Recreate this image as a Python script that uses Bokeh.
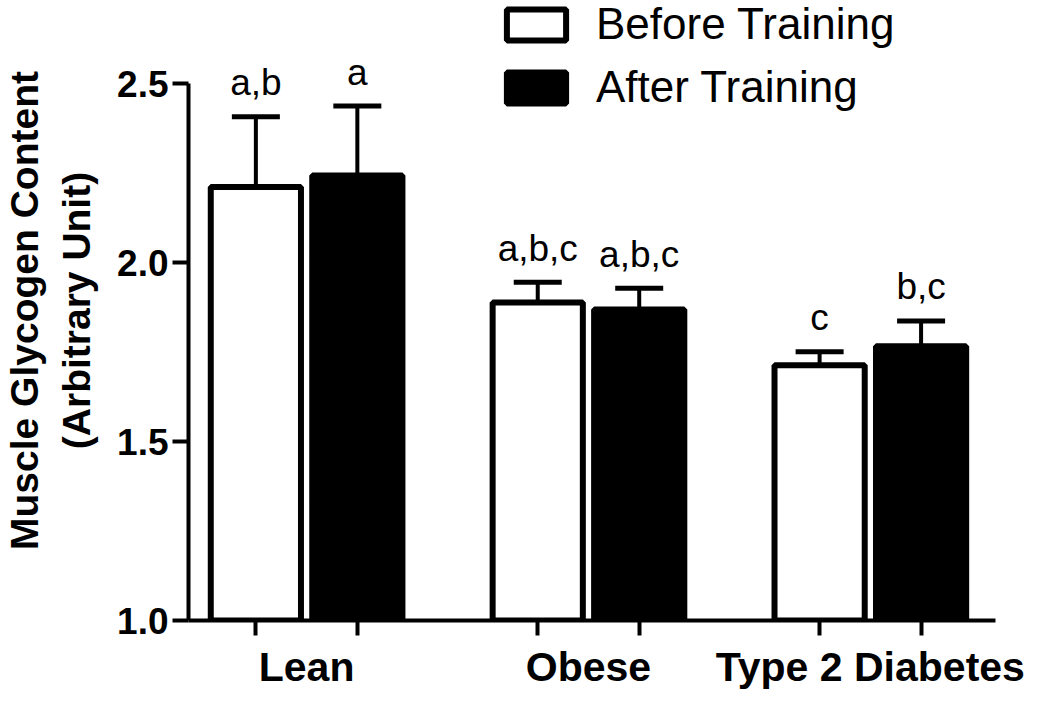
from bokeh.plotting import figure
from bokeh.models import (ColumnDataSource, Range1d, FixedTicker, NumeralTickFormatter,
                          Whisker, TeeHead, Legend, LegendItem)
from bokeh.core.properties import value
from bokeh.embed import file_html
from bokeh.resources import INLINE

# ---- data ----
groups = ["Lean", "Obese", "Type 2 Diabetes"]
before = [2.211, 1.888, 1.713]
before_err = [0.196, 0.057, 0.038]
after = [2.243, 1.869, 1.766]
after_err = [0.194, 0.059, 0.071]
before_labels = ["a,b", "a,b,c", "c"]
after_labels = ["a", "a,b,c", "b,c"]
y_ticks = [1.0, 1.5, 2.0, 2.5]

FONT = "Liberation Sans"
gpos = list(range(len(groups)))
off = 0.18
bw = 0.32
xb = [g - off for g in gpos]
xa = [g + off for g in gpos]

src_b = ColumnDataSource(dict(x=xb, top=before, cap=[v + e for v, e in zip(before, before_err)],
                              lab=before_labels))
src_a = ColumnDataSource(dict(x=xa, top=after, cap=[v + e for v, e in zip(after, after_err)],
                              lab=after_labels))
src_b.data["ly"] = [c + 0.095 for c in src_b.data["cap"]]
src_a.data["ly"] = [c + 0.095 for c in src_a.data["cap"]]

p = figure(width=1034, height=696, output_backend="svg", toolbar_location=None,
           x_range=Range1d(-0.419, 2.444), y_range=Range1d(1.0, 2.732),
           min_border_left=182, min_border_right=39, min_border_top=0, min_border_bottom=76)
p.grid.visible = False
p.outline_line_color = None
p.background_fill_color = "white"
p.border_fill_color = "white"

rb = p.vbar(x="x", top="top", bottom=1.0, width=bw, source=src_b,
            fill_color="white", line_color="black", line_width=6)
ra = p.vbar(x="x", top="top", bottom=1.0, width=bw, source=src_a,
            fill_color="black", line_color="black", line_width=6)

for s in (src_b, src_a):
    w = Whisker(base="x", lower="top", upper="cap", source=s, dimension="height",
                line_color="black", line_width=4,
                upper_head=TeeHead(size=48, line_width=5, line_color="black"),
                lower_head=None, level="overlay")
    p.add_layout(w)
    p.text(x="x", y="ly", text="lab", source=s, text_align="center",
           text_baseline="alphabetic", text_font=value(FONT), text_font_size="37px",
           text_color="black")

# y axis
ya = p.yaxis[0]
ya.ticker = FixedTicker(ticks=y_ticks)
ya.formatter = NumeralTickFormatter(format="0.0")
ya.bounds = (1.0, 2.5)
ya.axis_line_width = 4
ya.major_tick_line_width = 4
ya.major_tick_out = 16
ya.major_tick_in = 0
ya.minor_tick_line_color = None
ya.major_label_text_font = FONT
ya.major_label_text_font_style = "bold"
ya.major_label_text_font_size = "37px"
ya.major_label_text_color = "black"
ya.major_label_standoff = 4
ya.axis_label = "Muscle Glycogen Content\n(Arbitrary Unit)"
ya.axis_label_text_font = FONT
ya.axis_label_text_font_style = "bold"
ya.axis_label_text_font_size = "39px"
ya.axis_label_text_color = "black"
ya.axis_label_standoff = 16

# x axis
xa_ = p.xaxis[0]
xa_.ticker = FixedTicker(ticks=gpos, minor_ticks=xb + xa)
xa_.major_label_overrides = {g: n for g, n in zip(gpos, groups)}
xa_.axis_line_width = 4
xa_.major_tick_out = 0
xa_.major_tick_in = 0
xa_.minor_tick_out = 15
xa_.minor_tick_in = 0
xa_.minor_tick_line_width = 4
xa_.minor_tick_line_color = "black"
xa_.major_label_text_font = FONT
xa_.major_label_text_font_style = "bold"
xa_.major_label_text_font_size = "41px"
xa_.major_label_text_color = "black"
xa_.major_label_standoff = 8

legend = Legend(items=[LegendItem(label="Before Training", renderers=[rb]),
                       LegendItem(label="After Training", renderers=[ra])],
                location=(311, 507), glyph_width=74, glyph_height=39,
                label_text_font=FONT, label_text_font_size="44px", label_text_color="black",
                label_height=52, label_standoff=23, spacing=11, padding=0, margin=0,
                border_line_color=None, background_fill_alpha=0)
p.add_layout(legend)

open("out.html", "w").write(file_html(p, INLINE))
